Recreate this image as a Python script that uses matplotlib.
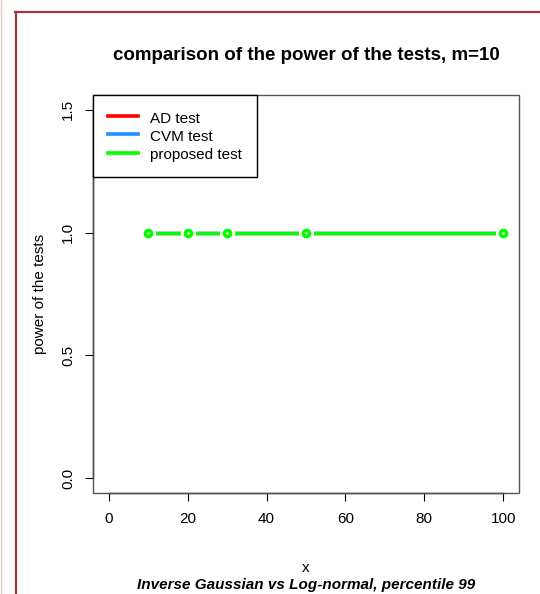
import matplotlib
matplotlib.use("Agg")
import matplotlib.pyplot as plt
from matplotlib.lines import Line2D
from matplotlib.patches import Rectangle

plt.rcParams['font.family'] = ['Liberation Sans', 'DejaVu Sans']

# data
x = [10, 20, 30, 50, 100]
power_ad = [1, 1, 1, 1, 1]
power_cvm = [1, 1, 1, 1, 1]
power_prop = [1, 1, 1, 1, 1]
series_names = ['AD test', 'CVM test', 'proposed test']
series_colors = ['#FF0000', '#1E90FF', '#00FF00']
x_ticks = [0, 20, 40, 60, 80, 100]
y_ticks = [0.0, 0.5, 1.0, 1.5]

fig = plt.figure(figsize=(5.4, 5.94), dpi=100)
ax = fig.add_axes([0.1722, 0.1700, 0.7889, 0.6700])

# R type="b": lines with gaps round the points
for ys, col in zip([power_ad, power_cvm, power_prop], series_colors):
    ax.plot(x, ys, color=col, lw=2.4, solid_capstyle='butt')
ax.plot(x, power_prop, ls='none', marker='o', ms=11, mfc='white', mec='white', mew=0)
ax.plot(x, power_prop, ls='none', marker='o', ms=4.5, mfc='white', mec=series_colors[2], mew=2.5)

ax.set_xlim(-4, 104)
ax.set_ylim(-0.06, 1.56)
ax.set_xticks(x_ticks)
ax.set_xticklabels([str(t) for t in x_ticks])
ax.set_yticks(y_ticks)
ax.set_yticklabels(['%.1f' % t for t in y_ticks], rotation=90, va='center')
ax.tick_params(direction='out', length=6, width=0.8, labelsize=11, color='black')
ax.tick_params(axis='x', pad=8)
ax.tick_params(axis='y', pad=7)

for s in ['top', 'right']:
    ax.spines[s].set_visible(False)
ax.spines['bottom'].set_bounds(0, 100)
ax.spines['left'].set_bounds(0, 1.5)
for s in ['bottom', 'left']:
    ax.spines[s].set_linewidth(1.0)
    ax.spines[s].set_color('black')
ax.add_patch(Rectangle((0, 0), 1, 1, transform=ax.transAxes, fill=False,
                       edgecolor='#555555', lw=1.0, clip_on=False, zorder=5))

ax.set_xlabel('x', fontsize=11, labelpad=25)
ax.set_ylabel('power of the tests', fontsize=11, labelpad=10)

handles = [Line2D([], [], color=c, lw=2.6) for c in series_colors]
leg = ax.legend(handles, series_names, loc='upper left', bbox_to_anchor=(0, 1),
                borderaxespad=0, fancybox=False, framealpha=1, edgecolor='black',
                fontsize=11, handlelength=2.0, handletextpad=0.8, handleheight=1.2,
                labelspacing=0.15, borderpad=0.95)
leg.get_frame().set_linewidth(1.0)

fig.text(0.5667, 1 - 55 / 594, 'comparison of the power of the tests, m=10',
         ha='center', va='center', fontsize=13.5, fontweight='bold')
fig.text(0.5667, 1 - 585 / 594, 'Inverse Gaussian vs Log-normal, percentile 99',
         ha='center', va='center', fontsize=11, fontweight='bold', style='italic')

# page border seen in the reference
border = '#A33A3A'
fig.add_artist(Line2D([16 / 540, 16 / 540], [0, 1 - 12 / 594], color=border, lw=1.6))
fig.add_artist(Line2D([15 / 540, 1], [1 - 12 / 594, 1 - 12 / 594], color=border, lw=1.6))
fig.add_artist(Line2D([0.5 / 540, 0.5 / 540], [0, 1], color='#E6C8C8', lw=1.0))

fig.savefig('out.png', dpi=100)
